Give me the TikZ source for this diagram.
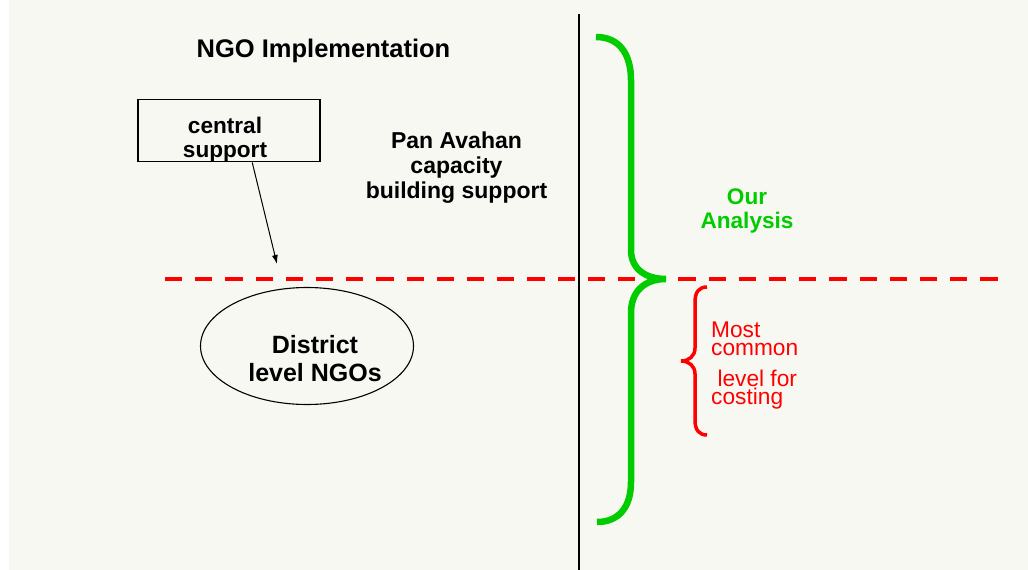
\documentclass[tikz,border=0pt]{standalone}
\usepackage{fontspec}
\setmainfont{Liberation Sans}
\usetikzlibrary{arrows.meta,shapes}
\definecolor{slidebg}{RGB}{248,248,243}
\definecolor{bracegreen}{RGB}{0,204,0}
\definecolor{costred}{RGB}{255,0,0}
\tikzstyle{tlabel}=[inner sep=0pt, font=\fontsize{25.5}{28}\selectfont\bfseries]
\tikzstyle{cbox}=[rectangle, draw=black, line width=1.3pt, inner sep=0pt,
                  minimum width=182pt, align=center,
                  font=\fontsize{22.6}{24}\selectfont\bfseries]
\tikzstyle{ebox}=[ellipse, draw=black, line width=1.1pt, inner sep=0pt,
                  minimum width=213pt, minimum height=117pt, align=center,
                  font=\fontsize{25}{27.5}\selectfont\bfseries]
\tikzstyle{plabel}=[inner sep=0pt, align=center, font=\fontsize{23}{25}\selectfont\bfseries]
\tikzstyle{glabel}=[inner sep=0pt, align=center, text=bracegreen,
                    font=\fontsize{22.6}{24.5}\selectfont\bfseries]
\tikzstyle{rlabel}=[inner sep=0pt, align=left, text=costred,
                    font=\fontsize{22.7}{17.8}\selectfont]
\tikzstyle{cutline}=[costred, line width=4pt, dash pattern=on 17.2pt off 13pt]
\tikzstyle{gbrace}=[bracegreen, line width=6.5pt]
\tikzstyle{rbrace}=[costred, line width=3.5pt]
\tikzstyle{aline}=[-{Latex[length=9pt,width=6pt]}, line width=1pt]
\begin{document}
\begin{tikzpicture}[x=1pt,y=-1pt]
\useasboundingbox (0,0) rectangle (1028,570);
\fill[slidebg] (9,0) rectangle (1028,570);

\node (TITLE) [tlabel, anchor=base] at (323.5,57) {NGO Implementation};
\node (CENTRAL) [cbox] at (229,130.5) {\rule{0pt}{34pt}central\hspace*{8pt}\\support\hspace*{8pt}};
\node (PANAVAHAN) [plabel, anchor=north] at (456.5,131.5) {Pan Avahan\\capacity\\building support};
\node (DISTRICT) [ebox] at (307,346) {\hspace*{16pt}\rule{0pt}{43pt}District\\\hspace*{16pt}level NGOs};
\node (ANALYSIS) [glabel, anchor=north] at (747,188.4) {Our\\Analysis};
\node (COSTING) [rlabel, anchor=north west] at (711,321.5) {Most\\common\\[13.5pt]\ level for\\costing};
\coordinate (CSTIP) at (277,264);
 \draw[aline] (CENTRAL.-54) -- (CSTIP);

 \draw[cutline] (165,279.3) -- (997.5,279.3);
 \draw[line width=1.2pt] (579,14) -- (579,570);

 \draw[gbrace] (596,37) .. controls (620,37) and (631,55) .. (631,80) -- (631,250)
   .. controls (631,270) and (647,279) .. (666,279)
   .. controls (645,279) and (631,291) .. (631,313) -- (631,482)
   .. controls (631,508) and (618,522) .. (597,522);
 \draw[rbrace] (707,287) .. controls (699,287) and (695,292) .. (695,302) -- (695,348)
   .. controls (695,356) and (689,361) .. (681,361)
   .. controls (689,361) and (695,366) .. (695,374) -- (695,420)
   .. controls (695,430) and (699,435) .. (707,435);

\end{tikzpicture}
\end{document}
